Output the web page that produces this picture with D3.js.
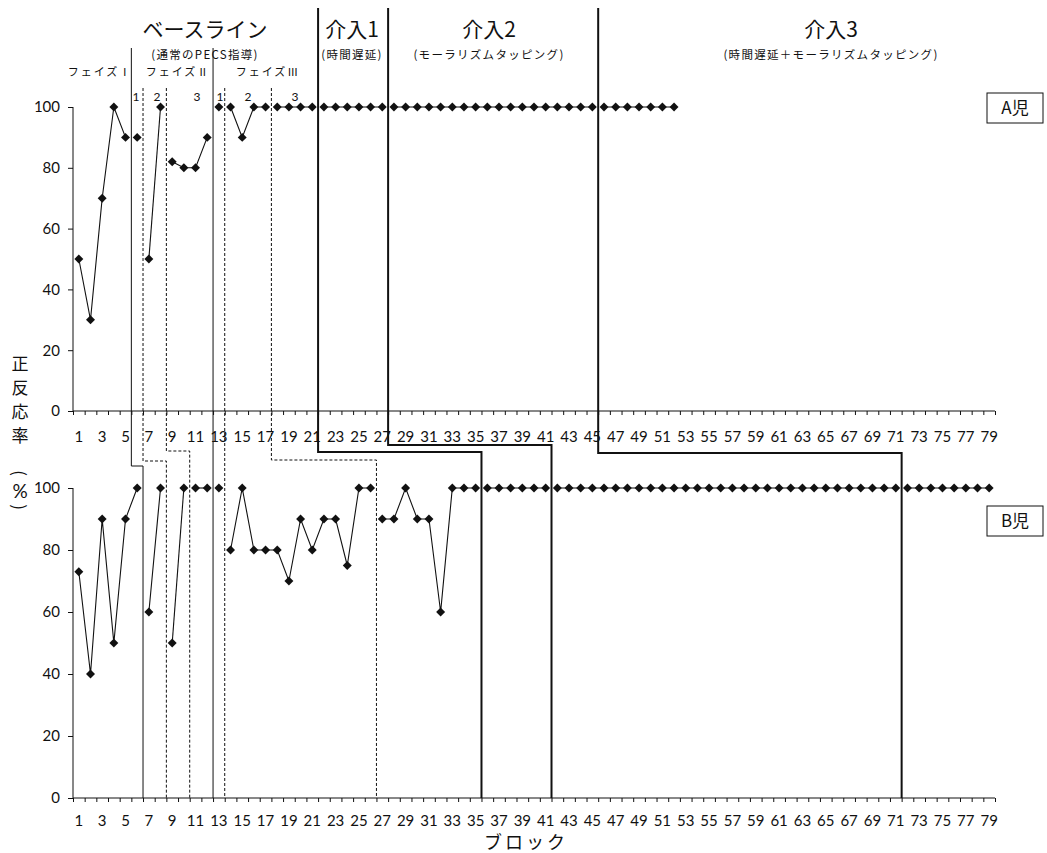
<!DOCTYPE html>
<html lang="ja">
<head>
  <meta charset="UTF-8">
  <title>正反応率</title>
  <style>
    body { margin: 0; background: #fff; }
    svg { display: block; }
    .jp { font-family: "Noto Sans CJK JP", sans-serif; fill: #111; }
    .num { font-family: Lato, "Noto Sans", sans-serif; fill: #111; }
  </style>
</head>
<body>
  <script src="https://cdnjs.cloudflare.com/ajax/libs/d3/7.8.5/d3.min.js"></script>
  <script>
    // ---- data ----
    const blocks = d3.range(1, 80);
    const xTickLabels = blocks.filter(b => b % 2 === 1);
    const yTicks = [0, 20, 40, 60, 80, 100];

    // A児 (blocks 1-52)
    const valuesA = [50, 30, 70, 100, 90, 90, 50, 100, 82, 80,
      80, 90, 100, 100, 90, 100, 100, 100, 100, 100,
      100, 100, 100, 100, 100, 100, 100, 100, 100, 100,
      100, 100, 100, 100, 100, 100, 100, 100, 100, 100,
      100, 100, 100, 100, 100, 100, 100, 100, 100, 100,
      100, 100];

    // B児 (blocks 1-79)
    const valuesB = [73, 40, 90, 50, 90, 100, 60, 100, 50, 100,
      100, 100, 100, 80, 100, 80, 80, 80, 70, 90,
      80, 90, 90, 75, 100, 100, 90, 90, 100, 90,
      90, 60, 100, 100, 100, 100, 100, 100, 100, 100,
      100, 100, 100, 100, 100, 100, 100, 100, 100, 100,
      100, 100, 100, 100, 100, 100, 100, 100, 100, 100,
      100, 100, 100, 100, 100, 100, 100, 100, 100, 100,
      100, 100, 100, 100, 100, 100, 100, 100, 100];

    // phase change after these blocks (A児 -> B児), and kind of line
    const boundA = [5, 6, 8, 12, 13, 17, 21, 27, 45];
    const boundB = [6, 8, 10, 12, 13, 26, 35, 41, 71];
    const boundKind = ["phase", "sub", "sub", "phase", "sub", "sub", "int", "int", "int"];

    const titles = ["ベースライン", "介入1", "介入2", "介入3"];
    const subtitles = ["(通常のPECS指導)", "(時間遅延)", "(モーラリズムタッピング)", "(時間遅延＋モーラリズムタッピング)"];
    const phaseNames = ["フェイズⅠ", "フェイズⅡ", "フェイズⅢ"];
    const stepNames = ["1", "2", "3", "1", "2", "3"];
    const yLabelChars = ["正", "反", "応", "率", "(", "%", ")"];

    // ---- layout ----
    const W = 1047, H = 853;
    const svg = d3.select("body").append("svg")
      .attr("width", W).attr("height", H);

    const x = d3.scaleLinear().domain([0.5, 79.5]).range([73, 995]);
    const yA = d3.scaleLinear().domain([0, 100]).range([411, 107]);
    const yB = d3.scaleLinear().domain([0, 100]).range([798, 488]);

    const titleX = [205, 352, 489, 831];
    const phaseX = [100, 178, 268];
    const stepX = [136, 157, 197, 220, 248, 295];
    const topY = { phase: 48, sub: 88, int: 8 };
    const stepY = [466, 461, 451, null, null, 460, 452, 445, 453];

    function drawAxes(y, labelY) {
      const g = svg.append("g");
      // y axis
      g.append("g")
        .attr("transform", `translate(${x.range()[0]},0)`)
        .call(d3.axisLeft(y).tickValues(yTicks).tickSize(5).tickPadding(8))
        .call(a => a.select(".domain").attr("d", `M0,${y(100)}V${y(0)}`))
        .call(a => a.selectAll("text").attr("class", "num").style("font-size", "15px"));
      // x axis tick marks at block boundaries
      g.append("g")
        .attr("transform", `translate(0,${y(0)})`)
        .call(d3.axisBottom(x).tickValues(d3.range(0.5, 80, 1)).tickSize(4).tickFormat(""))
        .call(a => a.select(".domain").attr("d", `M${x.range()[0]},0H${x.range()[1]}`));
      g.selectAll("path, line").attr("stroke", "#111");
      // x labels
      g.append("g").selectAll("text")
        .data(xTickLabels)
        .join("text")
        .attr("class", "num")
        .attr("x", d => x(d))
        .attr("y", labelY)
        .attr("text-anchor", "middle")
        .style("font-size", "15px")
        .text(d => d);
    }

    drawAxes(yA, 442);
    drawAxes(yB, 826);

    // phase change lines
    const lines = svg.append("g").attr("fill", "none");
    boundA.forEach((a, i) => {
      const kind = boundKind[i];
      const xa = x(a + 0.5), xb = x(boundB[i] + 0.5);
      const p = d3.path();
      p.moveTo(xa, topY[kind]);
      if (stepY[i] != null) {
        p.lineTo(xa, stepY[i]);
        p.lineTo(xb, stepY[i]);
      }
      p.lineTo(xb, yB(0));
      lines.append("path")
        .attr("d", p.toString())
        .attr("stroke", "#111")
        .attr("stroke-width", kind === "int" ? 2 : 1)
        .attr("stroke-dasharray", kind === "sub" ? "3,2" : null);
    });

    // data lines + diamonds
    function drawSeries(values, y, bounds) {
      const pts = values.map((v, i) => ({ b: i + 1, v }));
      const line = d3.line().x(d => x(d.b)).y(d => y(d.v));
      const segs = d3.groups(pts, d => d3.bisectLeft(bounds, d.b)).map(g => g[1]);
      svg.append("g").selectAll("path")
        .data(segs)
        .join("path")
        .attr("d", line)
        .attr("fill", "none")
        .attr("stroke", "#111")
        .attr("stroke-width", 1.1);
      svg.append("g").selectAll("path")
        .data(pts)
        .join("path")
        .attr("d", d3.symbol(d3.symbolSquare, 40))
        .attr("transform", d => `translate(${x(d.b)},${y(d.v)}) rotate(45)`)
        .attr("fill", "#111");
    }
    drawSeries(valuesA, yA, boundA);
    drawSeries(valuesB, yB, boundB);

    // headers
    titles.forEach((t, i) => {
      svg.append("text").attr("class", "jp")
        .attr("x", titleX[i]).attr("y", 37)
        .attr("text-anchor", "middle")
        .style("font-size", "21px")
        .text(t);
      svg.append("text").attr("class", "jp")
        .attr("x", titleX[i]).attr("y", 59)
        .attr("text-anchor", "middle")
        .style("font-size", "11.5px")
        .style("letter-spacing", "1.3px")
        .text(subtitles[i]);
    });
    phaseNames.forEach((t, i) => {
      svg.append("text").attr("class", "jp")
        .attr("x", phaseX[i]).attr("y", 76)
        .attr("text-anchor", "middle")
        .style("font-size", "11px")
        .style("letter-spacing", "2px")
        .text(t);
    });
    stepNames.forEach((t, i) => {
      svg.append("text").attr("class", "num")
        .attr("x", stepX[i]).attr("y", 101)
        .attr("text-anchor", "middle")
        .style("font-size", "12px")
        .text(t);
    });

    // child labels
    [["A児", 93], ["B児", 506]].forEach(([t, ty]) => {
      svg.append("rect")
        .attr("x", 987).attr("y", ty).attr("width", 56).attr("height", 30)
        .attr("fill", "#fff").attr("stroke", "#111").attr("stroke-width", 1);
      svg.append("text").attr("class", "jp")
        .attr("x", 1015).attr("y", ty + 21)
        .attr("text-anchor", "middle")
        .style("font-size", "17px")
        .text(t);
    });

    // y axis title (vertical)
    const yLabY = [362, 386, 410, 434, 473, 490, 507];
    yLabelChars.forEach((c, i) => {
      const t = svg.append("text")
        .attr("class", c === "%" ? "num" : "jp")
        .attr("text-anchor", "middle")
        .attr("dominant-baseline", "central")
        .style("font-size", c === "%" ? "19px" : "17px")
        .text(c);
      if (c === "(" || c === ")") {
        t.attr("transform", `translate(20,${yLabY[i]}) rotate(90)`);
      } else {
        t.attr("x", 20).attr("y", yLabY[i]);
      }
    });

    // x axis title
    svg.append("text").attr("class", "jp")
      .attr("x", 526).attr("y", 849)
      .attr("text-anchor", "middle")
      .style("font-size", "18px")
      .style("letter-spacing", "3px")
      .text("ブロック");
  </script>
</body>
</html>
